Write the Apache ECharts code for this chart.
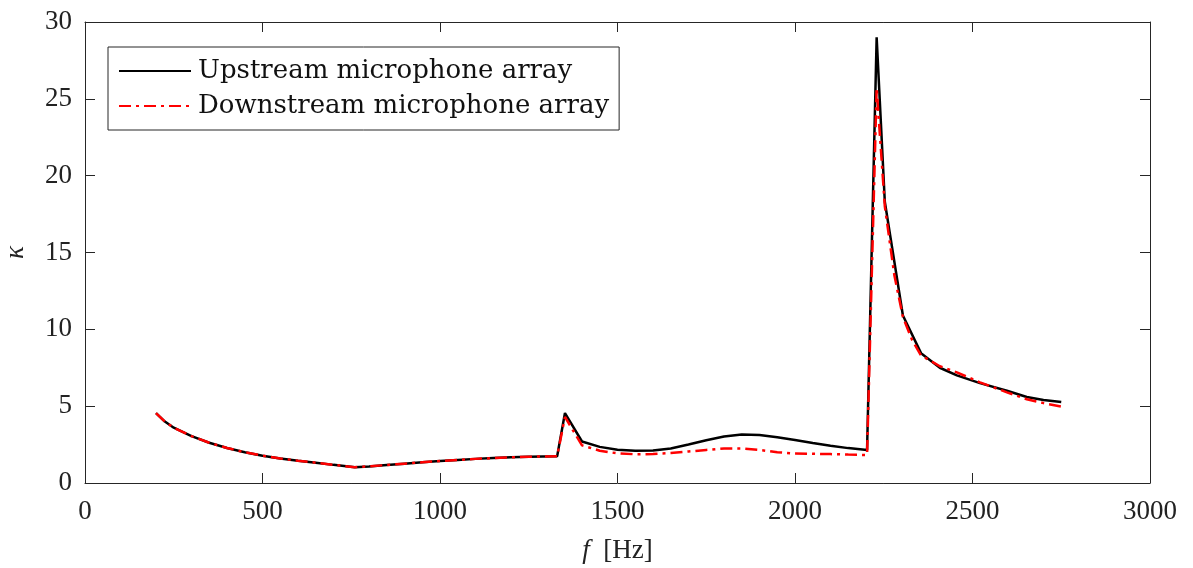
<!DOCTYPE html>
<html><head><meta charset="utf-8">
<script src="https://cdn.jsdelivr.net/npm/echarts@6/dist/echarts.min.js"></script>
<style>html,body{margin:0;padding:0;background:#fff}#c{width:1193px;height:568px}</style>
</head><body><div id="c"></div>
<script>
const freqUp = [200,225,250,300,350,400,450,500,550,600,650,700,760,800,850,900,950,1000,1050,1100,1150,1200,1250,1330,1352,1400,1450,1500,1550,1600,1650,1700,1750,1800,1850,1900,1950,2000,2050,2100,2150,2203,2230,2253,2304,2355,2408,2456,2521,2597,2653,2700,2750];
const kappaUp = [4.55,4.0,3.6,3.05,2.62,2.28,2.0,1.78,1.6,1.45,1.32,1.18,1.03,1.08,1.17,1.26,1.35,1.43,1.5,1.57,1.62,1.67,1.71,1.74,4.55,2.7,2.35,2.17,2.1,2.12,2.25,2.5,2.78,3.02,3.15,3.12,2.98,2.8,2.6,2.42,2.27,2.15,29.0,18.3,10.9,8.45,7.5,7.0,6.5,6.0,5.6,5.4,5.27];
const freqDown = [200,225,250,300,350,400,450,500,550,600,650,700,760,800,850,900,950,1000,1050,1100,1150,1200,1250,1330,1352,1400,1450,1500,1550,1600,1650,1700,1750,1800,1850,1900,1950,2000,2050,2100,2150,2203,2230,2253,2280,2304,2330,2355,2408,2456,2521,2597,2653,2700,2750];
const kappaDown = [4.55,4.0,3.6,3.05,2.62,2.28,2.0,1.78,1.6,1.45,1.32,1.18,1.03,1.08,1.17,1.26,1.35,1.43,1.5,1.57,1.62,1.67,1.71,1.74,4.3,2.45,2.1,1.93,1.87,1.88,1.95,2.05,2.15,2.25,2.25,2.15,2.0,1.92,1.9,1.88,1.85,1.82,25.7,18.0,13.5,10.8,9.3,8.3,7.6,7.2,6.55,5.9,5.45,5.2,4.98];
const xTicks = [0,500,1000,1500,2000,2500,3000];
const yTicks = [0,5,10,15,20,25,30];

const font = '"Liberation Serif", "DejaVu Serif", serif';
const legendFont = '"DejaVu Serif", "Liberation Serif", serif';
const axisCol = '#262626';
const pair = (xs, ys) => xs.map((x, i) => [x, ys[i]]);

const chart = echarts.init(document.getElementById('c'));
const common = {
  type: 'value',
  axisLine: {show: true, onZero: false, lineStyle: {color: axisCol, width: 1}},
  axisTick: {show: true, inside: true, length: 10, lineStyle: {color: axisCol}},
  splitLine: {show: false}
};
const baseX = Object.assign({}, common, {min: xTicks[0], max: xTicks[xTicks.length-1], interval: 500});
const baseY = Object.assign({}, common, {min: yTicks[0], max: yTicks[yTicks.length-1], interval: 5});
chart.setOption({
  animation: false,
  backgroundColor: '#fff',
  grid: {left: 85, right: 43, top: 22, bottom: 85, containLabel: false, outerBoundsMode: 'none'},
  legend: {
    left: 108, top: 47, orient: 'vertical',
    data: ['Upstream microphone array', 'Downstream microphone array'],
    itemWidth: 72, itemHeight: 14, itemGap: 9,
    padding: [11, 10, 11, 10],
    itemStyle: {opacity: 0},
    borderColor: axisCol, borderWidth: 1, backgroundColor: '#fff',
    textStyle: {fontFamily: legendFont, fontSize: 26, color: '#111', padding: [0, 0, 0, 2]}
  },
  xAxis: [
    Object.assign({}, baseX, {
      position: 'bottom',
      name: '{i|f}  [Hz]', nameLocation: 'middle', nameGap: 54,
      nameTextStyle: {fontFamily: font, fontSize: 27, color: '#222',
        rich: {i: {fontFamily: font, fontStyle: 'italic', fontSize: 27, color: '#222'}}},
      axisLabel: {fontFamily: font, fontSize: 27, color: '#222', margin: 15, formatter: v => String(v)}
    }),
    Object.assign({}, baseX, {position: 'top', axisLabel: {show: false}})
  ],
  yAxis: [
    Object.assign({}, baseY, {
      position: 'left',
      name: 'κ', nameLocation: 'middle', nameGap: 56, nameRotate: 90,
      nameTextStyle: {fontFamily: font, fontSize: 27, fontStyle: 'italic', color: '#222'},
      axisLabel: {fontFamily: font, fontSize: 27, color: '#222', margin: 13, formatter: v => String(v)}
    }),
    Object.assign({}, baseY, {position: 'right', axisLabel: {show: false}})
  ],
  series: [
    {
      name: 'Upstream microphone array', type: 'line', showSymbol: false, symbol: 'none',
      data: pair(freqUp, kappaUp), z: 2,
      lineStyle: {color: '#000', width: 2.5}, itemStyle: {color: '#000'}
    },
    {
      name: 'Downstream microphone array', type: 'line', showSymbol: false, symbol: 'none',
      data: pair(freqDown, kappaDown), z: 3,
      lineStyle: {color: '#ff0000', width: 2.5, type: [12, 5, 3, 5]}, itemStyle: {color: '#ff0000'}
    }
  ]
});
</script></body></html>
